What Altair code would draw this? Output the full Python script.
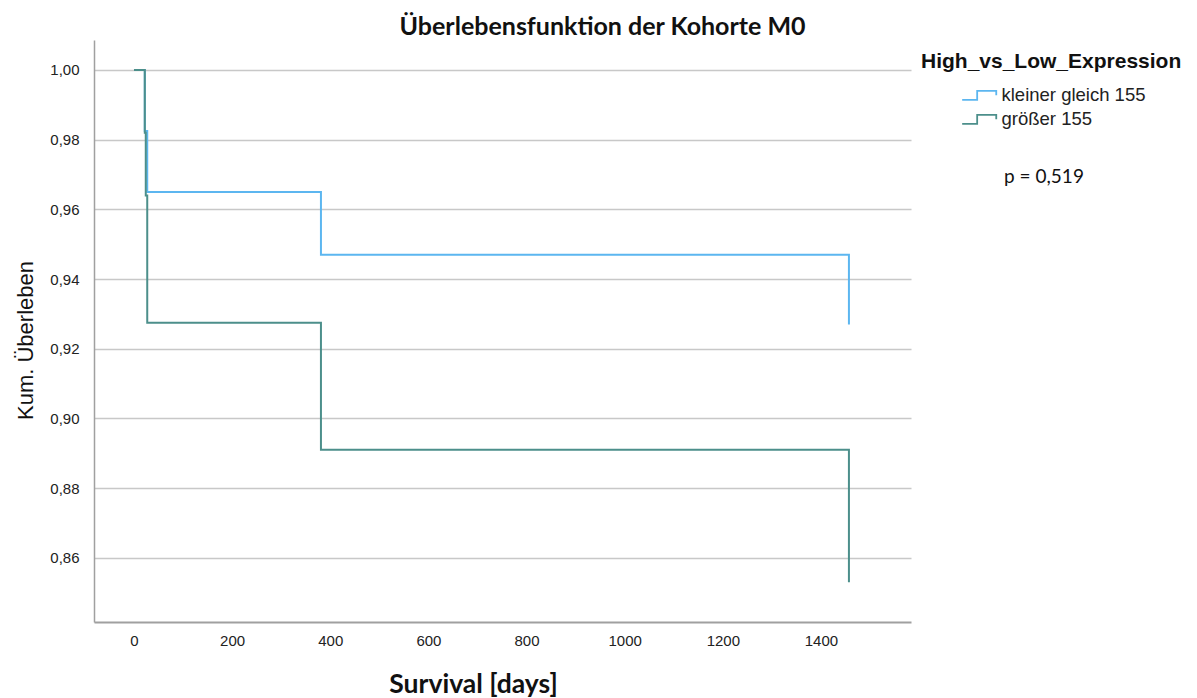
import altair as alt
import pandas as pd

# Kaplan-Meier step values
groups = ["kleiner gleich 155", "größer 155"]
low_days = [0, 22, 27, 381, 1457]
low_surv = [1.0, 0.9825, 0.965, 0.947, 0.927]
high_days = [0, 22, 24, 27, 381, 1457]
high_surv = [1.0, 0.982, 0.964, 0.9275, 0.891, 0.853]
colors = ["#5cb6f0", "#4c8f8b"]
y_ticks = [0.86, 0.88, 0.90, 0.92, 0.94, 0.96, 0.98, 1.00]
x_ticks = [0, 200, 400, 600, 800, 1000, 1200, 1400]
p_text = "p = 0,519"

rows = []
for d, s in zip(low_days, low_surv):
    rows.append({"group": groups[0], "days": d, "surv": s, "order": 0})
for d, s in zip(high_days, high_surv):
    rows.append({"group": groups[1], "days": d, "surv": s, "order": 1})
df = pd.DataFrame(rows)

W, H = 817, 582
base_font = "Liberation Sans"

# step-shaped legend glyph (unit = sqrt(size)/2 px)
step_path = "M-4.68,0.76L-2.18,0.76L-2.18,-0.73L1,-0.73L1,0"

lines = alt.Chart(df).mark_line(interpolate="step-after", strokeWidth=2).encode(
    x=alt.X("days:Q", scale=alt.Scale(domain=[-81.5, 1583.5], nice=False, zero=False),
            axis=alt.Axis(values=x_ticks, format="d", title="Survival [days]", grid=False,
                          ticks=False,
                          labelFont=base_font, labelFontSize=15, labelColor="#222222",
                          labelPadding=11, domainColor="#a0a0a0", domainWidth=2,
                          titleFont="Lato", titleFontSize=26.5, titleFontWeight="bold",
                          titleColor="#111111", titleX=379, titleY=70,
                          titleAlign="center", titleBaseline="alphabetic")),
    y=alt.Y("surv:Q", scale=alt.Scale(domain=[0.8416, 1.0086], nice=False, zero=False),
            axis=alt.Axis(values=y_ticks, title="Kum. Überleben", grid=True,
                          gridColor="#c8c8c8", gridWidth=1.5, ticks=False,
                          labelExpr="replace(format(datum.value, '.2f'), '.', ',')",
                          labelFont=base_font, labelFontSize=15, labelColor="#222222",
                          labelPadding=15, domainColor="#a0a0a0", domainWidth=1.5,
                          titleFont=base_font, titleFontSize=22, titleFontWeight="normal",
                          titleColor="#111111", titleX=-69, titleY=300, titleAngle=-90,
                          titleAlign="center", titleBaseline="middle")),
    color=alt.Color("group:N", scale=alt.Scale(domain=groups, range=colors),
                    legend=alt.Legend(title="High_vs_Low_Expression", orient="none",
                                      legendX=827, legendY=11,
                                      titleFont=base_font, titleFontSize=21,
                                      titleFontWeight="bold", titleColor="#111111",
                                      titlePadding=14, titleLimit=500,
                                      labelFont=base_font, labelFontSize=18.5,
                                      labelColor="#222222", labelOffset=2, labelLimit=400,
                                      symbolType=step_path, symbolSize=144,
                                      symbolStrokeWidth=1.8, symbolFillColor="transparent",
                                      symbolOffset=60, rowPadding=5)),
    order=alt.Order("order:Q"),
    detail="group:N",
)

ptext = alt.Chart(pd.DataFrame({"t": [p_text]})).mark_text(
    font="Lato", fontSize=19, color="#111111", align="center", baseline="middle"
).encode(x=alt.value(950), y=alt.value(137), text="t:N")

chart = alt.layer(lines, ptext).properties(
    width=W, height=H,
    background="white",
    title=alt.TitleParams("Überlebensfunktion der Kohorte M0", font="Lato", fontSize=25,
                          fontWeight="bold", color="#111111", anchor="middle", dx=100,
                          offset=0),
    autosize=alt.AutoSizeParams(type="none"),
    padding={"left": 86, "top": 32, "right": 278, "bottom": 76},
).configure_view(stroke=None)

chart.save("out.html", embed_options={"renderer": "svg", "actions": False})
